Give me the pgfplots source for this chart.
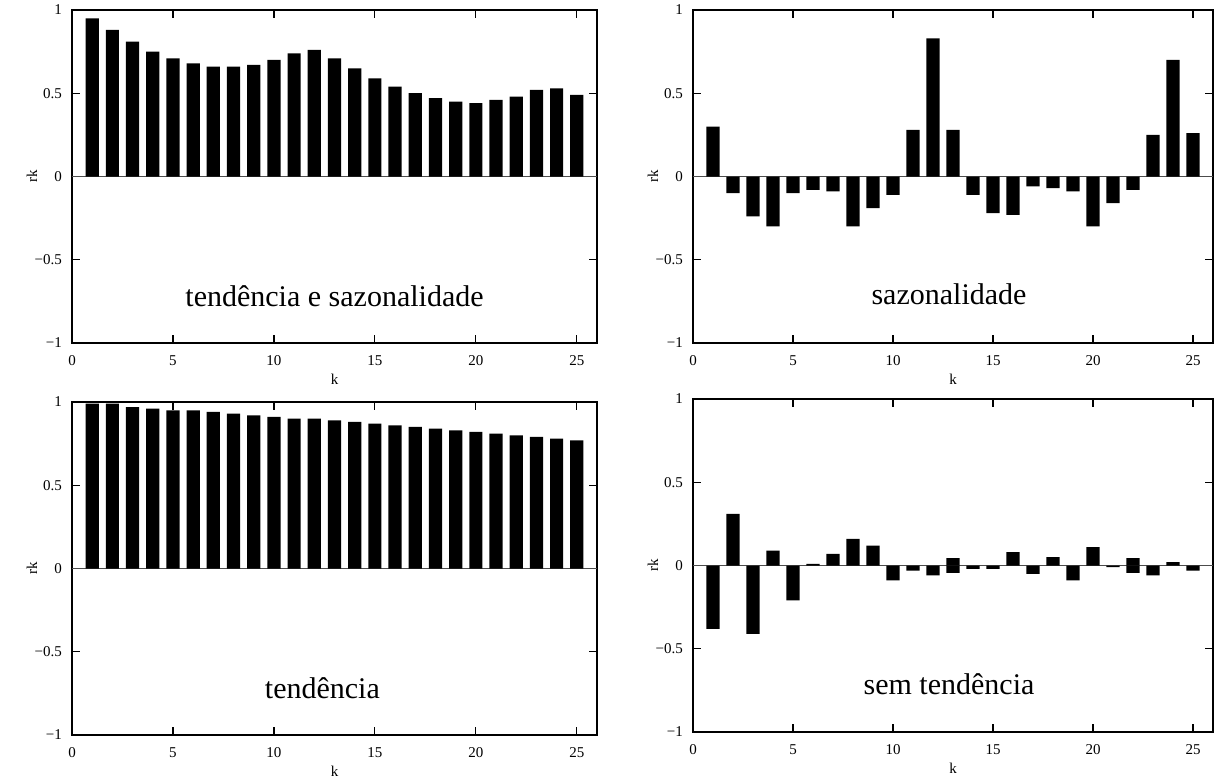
\documentclass[border=0pt]{standalone}
\usepackage{fontspec}
\setmainfont{Liberation Serif}
\usepackage{pgfplots}
\usepackage{pgfplotstable}
\pgfplotsset{compat=1.18}

% tendencia e sazonalidade
\pgfplotstableread{
k r
1 0.95
2 0.88
3 0.81
4 0.75
5 0.71
6 0.68
7 0.66
8 0.66
9 0.67
10 0.70
11 0.74
12 0.76
13 0.71
14 0.65
15 0.59
16 0.54
17 0.50
18 0.47
19 0.45
20 0.44
21 0.46
22 0.48
23 0.52
24 0.53
25 0.49
}\tabTS

% sazonalidade
\pgfplotstableread{
k r
1 0.30
2 -0.10
3 -0.24
4 -0.30
5 -0.10
6 -0.08
7 -0.09
8 -0.30
9 -0.19
10 -0.11
11 0.28
12 0.83
13 0.28
14 -0.11
15 -0.22
16 -0.23
17 -0.06
18 -0.07
19 -0.09
20 -0.30
21 -0.16
22 -0.08
23 0.25
24 0.70
25 0.26
}\tabS

% tendencia
\pgfplotstableread{
k r
1 0.99
2 0.99
3 0.97
4 0.96
5 0.95
6 0.95
7 0.94
8 0.93
9 0.92
10 0.91
11 0.90
12 0.90
13 0.89
14 0.88
15 0.87
16 0.86
17 0.85
18 0.84
19 0.83
20 0.82
21 0.81
22 0.80
23 0.79
24 0.78
25 0.77
}\tabT

% sem tendencia
\pgfplotstableread{
k r
1 -0.38
2 0.31
3 -0.41
4 0.09
5 -0.21
6 0.01
7 0.07
8 0.16
9 0.12
10 -0.09
11 -0.03
12 -0.06
13 0.045
14 -0.02
15 -0.02
16 0.08
17 -0.05
18 0.05
19 -0.09
20 0.11
21 -0.01
22 0.045
23 -0.06
24 0.02
25 -0.03
}\tabN
\pgfplotstableread{
k r
13 -0.045
22 -0.045
}\tabNx

\newcommand{\tickfont}{\fontsize{7.5}{8}\selectfont}

\pgfplotsset{
  acfpanel/.style={
    scale only axis, height=166.5pt,
    xmin=0, xmax=26, ymin=-1, ymax=1,
    xtick={0,5,...,25}, ytick={-1,-0.5,0,0.5,1},
    yticklabels={−1,−0.5,0,0.5,1},
    tick align=inside, major tick length=4pt,
    axis line style={line width=0.6pt},
    every tick/.style={black, line width=0.6pt},
    /pgf/number format/assume math mode=true,
    ticklabel style={font=\tickfont},
    xticklabel style={text height=5pt, text depth=0pt, yshift=-2.5pt},
    yticklabel style={xshift=-1.5pt},
    xlabel={k}, ylabel={rk},
    every axis y label/.style={at={(axis description cs:0,0.5)},
      xshift=-20pt, rotate=90, anchor=center, font=\tickfont},
    every axis x label/.style={at={(axis description cs:0.5,0)},
      yshift=-18pt, anchor=center, font=\tickfont},
    anchor=south west,
  },
  acfbar/.style={ybar, bar width=6.6pt, bar shift=0pt, fill=black, draw=none},
  zeroline/.style={gray!60!black, line width=0.7pt, forget plot},
}

\begin{document}
\begin{tikzpicture}
\useasboundingbox (0,0) rectangle (607pt,-390pt);

\begin{axis}[acfpanel, width=262.5pt, at={(36pt,-171.5pt)}]
\addplot[zeroline] coordinates {(0,0) (26,0)};
\addplot[acfbar] table[x=k, y=r] {\tabTS};
\node[font=\fontsize{15}{18}\selectfont] at (axis cs:13,-0.72) {tendência e sazonalidade};
\end{axis}

\begin{axis}[acfpanel, width=260pt, at={(346.5pt,-171.5pt)}]
\addplot[zeroline] coordinates {(0,0) (26,0)};
\addplot[acfbar] table[x=k, y=r] {\tabS};
\node[font=\fontsize{15}{18}\selectfont] at (axis cs:12.8,-0.71) {sazonalidade};
\end{axis}

\begin{axis}[acfpanel, width=262.5pt, at={(36pt,-367.5pt)}]
\addplot[zeroline] coordinates {(0,0) (26,0)};
\addplot[acfbar] table[x=k, y=r] {\tabT};
\node[font=\fontsize{15}{18}\selectfont] at (axis cs:12.4,-0.72) {tendência};
\end{axis}

\begin{axis}[acfpanel, width=260pt, at={(346.5pt,-366pt)}]
\addplot[zeroline] coordinates {(0,0) (26,0)};
\addplot[acfbar] table[x=k, y=r] {\tabN};
\addplot[acfbar] table[x=k, y=r] {\tabNx};
\node[font=\fontsize{15}{18}\selectfont] at (axis cs:12.8,-0.71) {sem tendência};
\end{axis}
\end{tikzpicture}
\end{document}
